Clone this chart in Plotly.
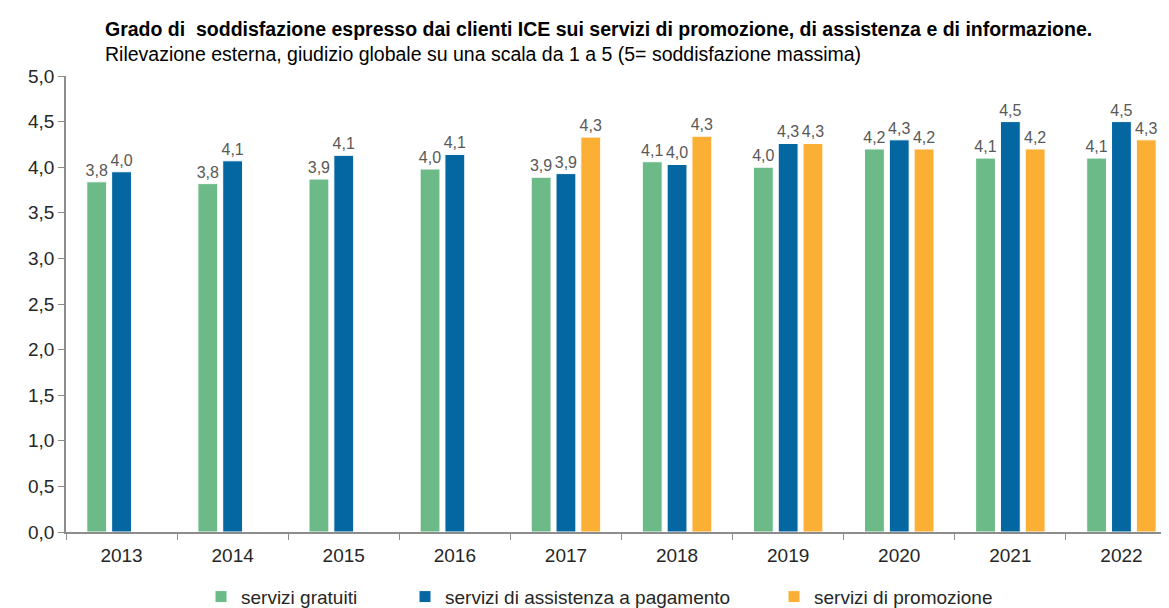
import plotly.graph_objects as go

years = ["2013", "2014", "2015", "2016", "2017", "2018", "2019", "2020", "2021", "2022"]
gratuiti = [3.84, 3.82, 3.87, 3.98, 3.89, 4.06, 4.00, 4.20, 4.10, 4.10]
assistenza = [3.95, 4.07, 4.13, 4.14, 3.93, 4.03, 4.26, 4.30, 4.50, 4.50]
promozione = [None, None, None, None, 4.33, 4.34, 4.26, 4.20, 4.20, 4.30]

names = ["servizi gratuiti", "servizi di assistenza a pagamento", "servizi di promozione"]
colors = ["#6cba88", "#0567a2", "#fbb035"]
series = [gratuiti, assistenza, promozione]
legends = ["legend", "legend2", "legend3"]

FONT = "Arial, Liberation Sans, sans-serif"

fig = go.Figure()
for name, vals, col, lg in zip(names, series, colors, legends):
    fig.add_trace(go.Bar(
        x=years, y=vals, name=name, showlegend=True,
        marker=dict(color=col, line=dict(color="white", width=1)),
        texttemplate="%{y:.1f}", textposition="outside",
        textfont=dict(family=FONT, size=16, color="#595959"),
        constraintext="none", cliponaxis=False,
        legend=lg,
    ))

L, W = 58, 1111
def px_x(p):
    return (p - L) / W

leg_common = dict(orientation="h", yanchor="middle", y=-0.142, xanchor="left",
                  font=dict(family=FONT, size=19, color="#262626"),
                  bgcolor="rgba(0,0,0,0)", itemwidth=30)

fig.update_layout(
    width=1169, height=608,
    margin=dict(l=L, r=0, t=68, b=71),
    plot_bgcolor="white", paper_bgcolor="white",
    separators=",.",
    showlegend=True,
    barmode="group", bargap=0.33, bargroupgap=0.2,
    font=dict(family=FONT, size=19, color="#262626"),
    legend=dict(x=px_x(235 - 42), **leg_common),
    legend2=dict(x=px_x(439 - 42), **leg_common),
    legend3=dict(x=px_x(808 - 42), **leg_common),
    xaxis=dict(showline=True, linecolor="#8c8c8c", linewidth=1.5,
               ticks="outside", tickson="boundaries", ticklen=6, tickcolor="#8c8c8c",
               tickfont=dict(family=FONT, size=19, color="#262626"),
               ticklabelstandoff=5, automargin=False,
               showgrid=False),
    yaxis=dict(range=[0, 5], dtick=0.5, tickformat=".1f",
               showline=True, linecolor="#8c8c8c", linewidth=1.5,
               ticks="outside", ticklen=6, tickcolor="#8c8c8c",
               tickfont=dict(family=FONT, size=19, color="#262626"),
               automargin=False,
               showgrid=False, zeroline=False),
    annotations=[
        dict(text="<b>Grado di&nbsp; soddisfazione espresso dai clienti ICE sui servizi di promozione, di assistenza e di informazione.</b>",
             xref="paper", yref="paper", x=px_x(95), y=(537 - 20) / 469,
             xanchor="left", yanchor="middle", showarrow=False,
             font=dict(family=FONT, size=19.5, color="#000000")),
        dict(text="Rilevazione esterna, giudizio globale su una scala da 1 a 5 (5= soddisfazione massima)",
             xref="paper", yref="paper", x=px_x(95), y=(537 - 45) / 469,
             xanchor="left", yanchor="middle", showarrow=False,
             font=dict(family=FONT, size=19.5, color="#000000")),
    ],
)

fig.write_html("out.html")
